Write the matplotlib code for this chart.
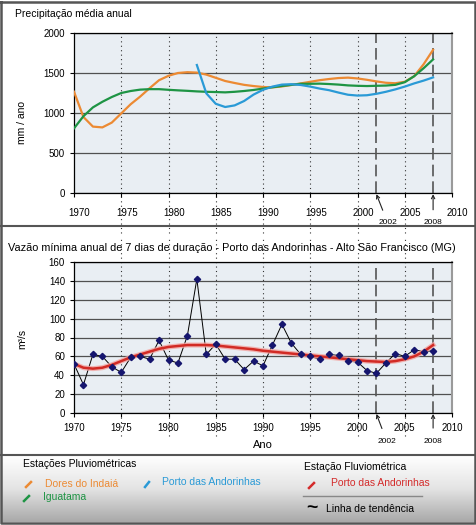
import numpy as np
import matplotlib.pyplot as plt
from matplotlib.colors import LinearSegmentedColormap
from matplotlib.transforms import ScaledTranslation

plt.rcParams['font.family'] = ['Liberation Sans', 'DejaVu Sans']

# precipitacao media anual (mm/ano)
anos = np.arange(1970, 2009)
dores_indaia = [1266, 950, 830, 820, 880, 995, 1110, 1205, 1310, 1410,
                1465, 1500, 1510, 1505, 1480, 1440, 1400, 1375, 1352, 1337,
                1325, 1320, 1332, 1350, 1370, 1390, 1410, 1425, 1437, 1442,
                1432, 1415, 1395, 1378, 1372, 1390, 1460, 1610, 1790]
iguatama = [808, 960, 1070, 1140, 1200, 1250, 1275, 1292, 1298, 1298,
            1290, 1283, 1277, 1270, 1265, 1262, 1258, 1265, 1275, 1288,
            1305, 1322, 1338, 1352, 1365, 1365, 1367, 1362, 1355, 1345,
            1340, 1337, 1340, 1343, 1352, 1385, 1460, 1560, 1670]
anos_porto = np.arange(1983, 2009)
porto_chuva = [1600, 1246, 1115, 1075, 1095, 1150, 1230, 1290, 1330, 1355,
               1360, 1350, 1330, 1305, 1285, 1255, 1228, 1218, 1222, 1240,
               1265, 1295, 1330, 1370, 1405, 1445]

# vazao minima de 7 dias (m3/s) e linha de tendencia
vazao = [52, 30, 62, 60, 49, 43, 59, 60, 57, 77,
         56, 53, 82, 142, 62, 73, 57, 57, 46, 55,
         50, 72, 94, 74, 62, 60, 57, 62, 61, 55,
         54, 45, 42, 53, 63, 60, 67, 65, 66]
tendencia = [52, 48, 47, 48, 51, 55, 59, 62, 65, 68,
             70, 71, 72, 72, 72, 71.5, 70.5, 69.5, 68.5, 67.5,
             66, 65, 64, 63, 62, 61, 60, 59, 58, 57,
             56, 55, 54.5, 54, 55, 57, 60, 65, 72]

anos_marcados = [2002, 2008]
xticks = list(range(1970, 2011, 5))

fig = plt.figure(figsize=(4.77, 5.25), dpi=100)

# fundo / molduras em coordenadas de pixel
bg = fig.add_axes([0, 0, 1, 1], zorder=0)
cmap = LinearSegmentedColormap.from_list('g', ['#ffffff', '#e4e4e4', '#a9a9a9'])
bg.imshow(np.linspace(0, 1, 80).reshape(-1, 1), extent=(2, 475, 522, 455),
          cmap=cmap, aspect='auto', origin='upper')
bg.set_xlim(0, 477)
bg.set_ylim(525, 0)
bg.axis('off')
bg.plot([1.5, 475.5, 475.5, 1.5, 1.5], [1.5, 1.5, 522.5, 522.5, 1.5], color='#555555', lw=1.8)
bg.plot([1.5, 475.5], [226, 226], color='#555555', lw=1.5)
bg.plot([1.5, 475.5], [455, 455], color='#555555', lw=1.5)

# legenda
bg.text(23, 464, 'Estações Pluviométricas', fontsize=7.5, va='center')
bg.plot([26, 31], [487, 482], color='#ec8a33', lw=1.8)
bg.text(45, 484, 'Dores do Indaiá', fontsize=7.5, va='center', color='#ec8a33')
bg.plot([24, 29], [501, 496], color='#1e9444', lw=1.8)
bg.text(43, 497, 'Iguatama', fontsize=7.5, va='center', color='#1e9444')
bg.plot([145, 149], [487, 482], color='#2a9ad6', lw=1.8)
bg.text(162, 482, 'Porto das Andorinhas', fontsize=7.5, va='center', color='#2a9ad6')
bg.text(304, 467, 'Estação Fluviométrica', fontsize=7.5, va='center')
bg.plot([309, 314], [488, 483], color='#d42b2b', lw=1.8)
bg.text(331, 483, 'Porto das Andorinhas', fontsize=7.5, va='center', color='#d42b2b')
bg.plot([303, 422], [496, 496], color='#888888', lw=1)
bg.text(312, 509, '~', fontsize=14, va='center', ha='center', fontweight='bold')
bg.text(326, 509, 'Linha de tendência', fontsize=7.5, va='center')


def estilo(ax, ymax, ystep):
    ax.set_facecolor('#e9eef3')
    ax.set_xlim(1970, 2010)
    ax.set_ylim(0, ymax)
    ax.set_xticks(xticks)
    ax.set_yticks(np.arange(0, ymax + 1, ystep))
    ax.yaxis.grid(True, color='#505050', lw=0.9)
    ax.set_axisbelow(True)
    ax.tick_params(labelsize=7, length=3, width=0.8)
    for s in ['left', 'bottom', 'top']:
        ax.spines[s].set_color('black')
        ax.spines[s].set_linewidth(0.9)
    ax.spines['right'].set_color('#9a9a9a')
    ax.spines['right'].set_linewidth(1.5)
    for a in anos_marcados:
        ax.axvline(a, color='#555555', lw=1.2, ls=(0, (7, 3)), zorder=1.5)


seta = dict(arrowstyle='->', color='#222222', lw=0.8, shrinkA=5, shrinkB=0)

# ---- precipitacao
ax1 = fig.add_axes([74 / 477, 1 - 193 / 525, 378 / 477, 160 / 525])
estilo(ax1, 2000, 500)
for yr in range(1975, 2006, 5):
    ax1.axvline(yr, ymin=-0.25, ymax=1, color='#333333', lw=0.8,
                ls=(0, (1, 3)), clip_on=False, zorder=1)
ax1.plot(anos, dores_indaia, color='#ec8a33', lw=1.6, zorder=3)
ax1.plot(anos, iguatama, color='#1e9444', lw=1.6, zorder=3)
ax1.plot(anos_porto, porto_chuva, color='#2a9ad6', lw=1.6, zorder=3)
ax1.tick_params(axis='x', pad=8)
for lab in ax1.get_xticklabels():
    lab.set_transform(lab.get_transform() + ScaledTranslation(4 / 72, 0, fig.dpi_scale_trans))
fig.text(15 / 477, 1 - 14 / 525, 'Precipitação média anual', fontsize=7.5, va='center')
fig.text(22 / 477, 1 - 123 / 525, 'mm / ano', fontsize=7.5, va='center', ha='center', rotation=90)

ax1.annotate('2002', xy=(2002, -15), xytext=(2003.2, -375), fontsize=6, ha='center', va='center',
             annotation_clip=False, arrowprops=seta)
ax1.annotate('2008', xy=(2008, -15), xytext=(2008, -375), fontsize=6, ha='center', va='center',
             annotation_clip=False, arrowprops=seta)

# ---- vazao
ax2 = fig.add_axes([74 / 477, 1 - 413 / 525, 378 / 477, 151 / 525])
estilo(ax2, 160, 20)
for yr in range(1975, 2006, 5):
    ax2.axvline(yr, ymin=-0.15, ymax=1.16, color='#333333', lw=0.8,
                ls=(0, (1, 3)), clip_on=False, zorder=1)
ax2.plot(anos, vazao, color='black', lw=0.7, zorder=2)
ax2.plot(anos, tendencia, color='#f3a3a0', lw=3.6, alpha=0.8, zorder=3)
ax2.plot(anos, tendencia, color='#d22b25', lw=1.8, zorder=3)
ax2.plot(anos, vazao, ls='none', marker='D', ms=3.2, color='#15156e', zorder=4)
ax2.tick_params(axis='x', pad=4)
ax2.set_xlabel('Ano', fontsize=8, labelpad=5)
fig.text(232 / 477, 1 - 248 / 525,
         'Vazão mínima anual de 7 dias de duração - Porto das Andorinhas - Alto São Francisco (MG)',
         fontsize=7.85, va='center', ha='center')
fig.text(22 / 477, 1 - 339 / 525, 'm³/s', fontsize=7.5, va='center', ha='center', rotation=90)

ax2.annotate('2002', xy=(2002, -1), xytext=(2003.1, -30), fontsize=6, ha='center', va='center',
             annotation_clip=False, arrowprops=seta)
ax2.annotate('2008', xy=(2008, -1), xytext=(2008, -30), fontsize=6, ha='center', va='center',
             annotation_clip=False, arrowprops=seta)

fig.savefig('out.png', dpi=100)
